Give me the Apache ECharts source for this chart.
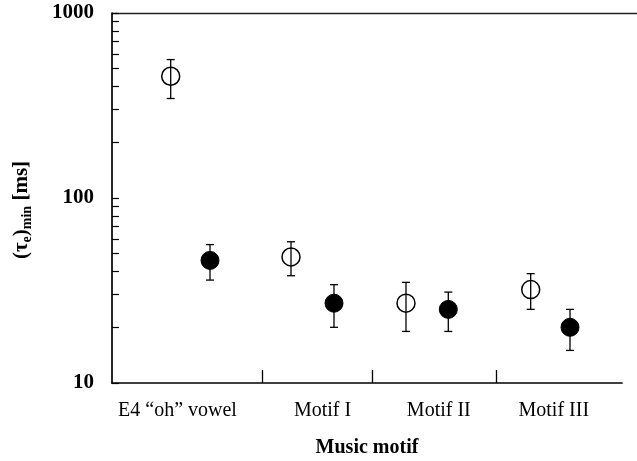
<!DOCTYPE html>
<html>
<head>
<meta charset="utf-8">
<script src="https://cdn.jsdelivr.net/npm/echarts@6/dist/echarts.min.js"></script>
<style>
  html, body { margin: 0; padding: 0; background: #fff; }
  #chart { width: 637px; height: 461px; }
</style>
</head>
<body>
<div id="chart"></div>
<script>
// Motif names along the horizontal axis
const categories = ['E4 \u201Coh\u201D vowel', 'Motif I', 'Motif II', 'Motif III'];

// Open circles: mean and error-bar limits [ms]
const openMean = [455, 48, 27, 32];
const openLow  = [345, 38, 19, 25];
const openHigh = [560, 58, 35, 39];

// Filled circles: mean and error-bar limits [ms]
const filledMean = [46, 27, 25, 20];
const filledLow  = [36, 20, 19, 15];
const filledHigh = [56, 34, 31, 25];

// Vertical-axis tick values
const yLabels = [10, 100, 1000];
const yTicks = [10, 20, 30, 40, 50, 60, 70, 80, 90, 100,
                200, 300, 400, 500, 600, 700, 800, 900, 1000];

// Horizontal layout (axis units): where each group sits and where dividers go
const openX = [58.7, 179, 294, 418.7];
const filledX = [98, 222, 336.3, 458];
const labelX = [65.5, 210.5, 326.8, 441.8];
const dividerX = [150, 260.7, 384.7];

const serif = '"Liberation Serif", "Times New Roman", serif';

function points(xs, ys) { return xs.map((x, i) => [x, ys[i]]); }
function bars(xs, lo, hi) { return xs.map((x, i) => [x, lo[i], hi[i]]); }

function errorBar(params, api) {
  const x = api.value(0);
  const top = api.coord([x, api.value(2)]);
  const bot = api.coord([x, api.value(1)]);
  const cap = 4;
  const style = { stroke: '#000', lineWidth: 1.3 };
  return {
    type: 'group',
    children: [
      { type: 'line', shape: { x1: top[0], y1: top[1], x2: bot[0], y2: bot[1] }, style },
      { type: 'line', shape: { x1: top[0] - cap, y1: top[1], x2: top[0] + cap, y2: top[1] }, style },
      { type: 'line', shape: { x1: bot[0] - cap, y1: bot[1], x2: bot[0] + cap, y2: bot[1] }, style }
    ]
  };
}

const chart = echarts.init(document.getElementById('chart'), null, { renderer: 'canvas' });
chart.setOption({
  animation: false,
  backgroundColor: '#fff',
  grid: { left: 112, top: 13, right: 15, bottom: 78, outerBoundsMode: 'none', containLabel: false },
  xAxis: {
    type: 'value',
    min: 0,
    max: 510,
    splitLine: { show: false },
    axisLine: { lineStyle: { color: '#000', width: 1.7 } },
    axisTick: {
      show: true,
      inside: true,
      length: 13,
      customValues: dividerX,
      lineStyle: { color: '#000', width: 1.3 }
    },
    axisLabel: {
      customValues: labelX,
      margin: 18,
      color: '#000',
      fontFamily: serif,
      fontSize: 20,
      formatter: v => categories[labelX.indexOf(v)] || ''
    },
    name: 'Music motif',
    nameLocation: 'middle',
    nameGap: 55,
    nameTextStyle: { color: '#000', fontFamily: serif, fontSize: 20, fontWeight: 'bold' }
  },
  yAxis: {
    type: 'log',
    logBase: 10,
    min: 10,
    max: 1000,
    splitLine: { show: false },
    axisLine: { lineStyle: { color: '#000', width: 1.7 } },
    axisTick: {
      show: true,
      inside: true,
      length: 7,
      customValues: yTicks,
      lineStyle: { color: '#000', width: 1.2 }
    },
    minorTick: { show: false },
    axisLabel: {
      customValues: yLabels,
      margin: 18,
      color: '#000',
      fontFamily: serif,
      fontSize: 21,
      fontWeight: 'bold',
      formatter: v => String(Math.round(v))
    }
  },
  graphic: [
    {
      type: 'line',
      shape: { x1: 112, y1: 13.5, x2: 637, y2: 13.5 },
      style: { stroke: '#222', lineWidth: 1.7 },
      silent: true
    },
    {
      type: 'text',
      x: 22,
      y: 210,
      rotation: Math.PI / 2,
      style: {
        text: '{p|(\u03C4}{s|e}{p|)}{s|min}{p| [ms]}',
        align: 'center',
        verticalAlign: 'middle',
        fill: '#000',
        rich: {
          p: { fontFamily: serif, fontSize: 21, fontWeight: 'bold', fill: '#000', lineHeight: 24 },
          s: { fontFamily: serif, fontSize: 14, fontWeight: 'bold', fill: '#000', padding: [10, 0, 0, 0] }
        }
      }
    }
  ],
  series: [
    {
      name: 'open',
      type: 'scatter',
      symbol: 'circle',
      symbolSize: 18,
      z: 2,
      itemStyle: { color: 'rgba(255,255,255,0)', borderColor: '#000', borderWidth: 1.5, opacity: 1 },
      data: points(openX, openMean)
    },
    {
      name: 'filled',
      type: 'scatter',
      symbol: 'circle',
      symbolSize: 18,
      z: 2,
      itemStyle: { color: '#000', borderColor: '#000', borderWidth: 1, opacity: 1 },
      data: points(filledX, filledMean)
    },
    {
      name: 'open error',
      type: 'custom',
      z: 3,
      renderItem: errorBar,
      encode: { x: 0, y: [1, 2] },
      data: bars(openX, openLow, openHigh)
    },
    {
      name: 'filled error',
      type: 'custom',
      z: 3,
      renderItem: errorBar,
      encode: { x: 0, y: [1, 2] },
      data: bars(filledX, filledLow, filledHigh)
    }
  ]
});
</script>
</body>
</html>
